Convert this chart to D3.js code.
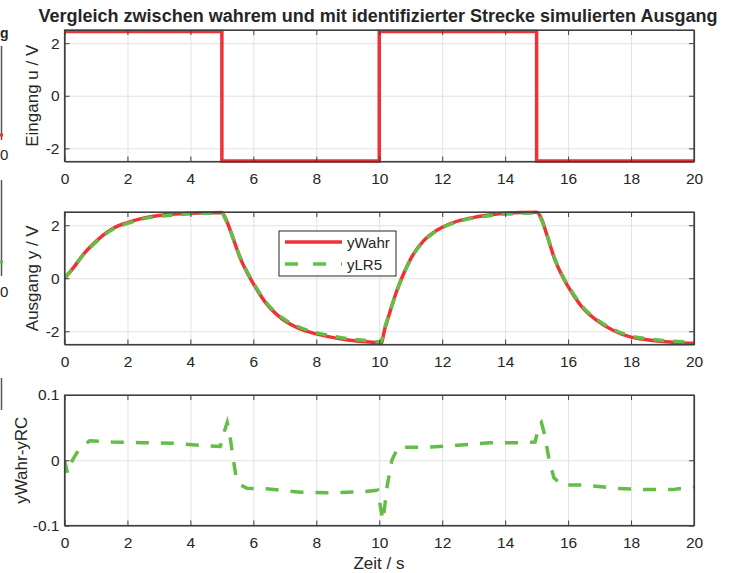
<!DOCTYPE html>
<html>
<head>
<meta charset="utf-8">
<script src="https://cdn.jsdelivr.net/npm/d3@7/dist/d3.min.js"></script>
<style>
  body { margin: 0; background: #fff; }
  text { font-family: "Liberation Sans", Arial, sans-serif; fill: #262626; }
</style>
</head>
<body>
<svg id="chart"></svg>
<script>
// ---- data ----
const xTicks = [0, 2, 4, 6, 8, 10, 12, 14, 16, 18, 20];

// input square wave
const tIn = [0, 5, 5, 10, 10, 15, 15, 20];
const uIn = [2.44, 2.44, -2.48, -2.48, 2.44, 2.44, -2.48, -2.48];

// outputs
const tOut = [0, 0.28, 0.6, 0.92, 1.23, 1.55, 2, 2.5, 3, 3.5, 4, 4.5, 5, 5.1, 5.3, 5.58, 5.84, 6.05, 6.37, 6.9, 7.43, 8, 8.5, 9, 9.5, 10, 10.05,
  10.18, 10.34, 10.55, 10.76, 11.08, 11.4, 11.83, 12.35, 12.88, 13.5, 14, 14.5, 15, 15.16, 15.32, 15.58, 15.85, 16.17, 16.48, 16.9, 17.44,
  18, 18.5, 19, 19.5, 20];
const yWahr = [0, 0.39, 0.9, 1.3, 1.63, 1.89, 2.1, 2.27, 2.37, 2.42, 2.45, 2.47, 2.48, 2.3, 1.7, 0.77, 0.13, -0.31, -0.89, -1.52, -1.88, -2.1,
  -2.23, -2.33, -2.39, -2.44, -2.47, -1.9, -1.27, -0.5, 0.13, 0.9, 1.4, 1.81, 2.1, 2.27, 2.39, 2.45, 2.48, 2.49, 2.23, 1.66, 0.7, 0,
  -0.63, -1.14, -1.58, -1.97, -2.22, -2.32, -2.39, -2.43, -2.45];
const yLR5 = [0, 0.39, 0.88, 1.27, 1.6, 1.86, 2.07, 2.24, 2.34, 2.39, 2.43, 2.45, 2.46, 2.26, 1.69, 0.8, 0.17, -0.27, -0.85, -1.48, -1.83, -2.05,
  -2.18, -2.28, -2.34, -2.4, -2.39, -1.84, -1.26, -0.52, 0.11, 0.88, 1.38, 1.79, 2.08, 2.25, 2.36, 2.42, 2.45, 2.46, 2.18, 1.66, 0.73, 0.04,
  -0.59, -1.1, -1.54, -1.93, -2.18, -2.28, -2.35, -2.39, -2.41];

// difference yWahr - yRC
const tDiff = [0, 0.1, 0.25, 0.45, 0.8, 1.5, 2.5, 3.5, 4.5, 4.95, 5.05, 5.17, 5.25, 5.35, 5.45, 5.6, 5.8, 6.5, 7.5, 8.5, 9.5, 9.95, 10.05,
  10.12, 10.25, 10.4, 10.6, 11.5, 12.5, 13.5, 14.5, 14.95, 15.08, 15.15, 15.25, 15.4, 15.55, 15.8, 16.5, 17.5, 18.5, 19.3, 20];
const dRC = [0, -0.02, 0, 0.016, 0.03, 0.028, 0.027, 0.026, 0.022, 0.021, 0.04, 0.058, 0.04, 0.005, -0.025, -0.038, -0.043, -0.044, -0.049,
  -0.05, -0.048, -0.046, -0.075, -0.092, -0.04, 0, 0.02, 0.02, 0.023, 0.027, 0.027, 0.028, 0.054, 0.058, 0.04, 0, -0.027, -0.038, -0.038,
  -0.043, -0.045, -0.045, -0.041];

const titleText = "Vergleich zwischen wahrem und mit identifizierter Strecke simulierten Ausgang";
const legendNames = ["yWahr", "yLR5"];

// ---- layout ----
const W = 733, H = 573;
const left = 64.5, right = 694;
const RED = "#ee3236", GREEN = "#63bd46", AX = "#3f3f3f", GRID = "#e2e2e2";
const TICK_FS = 15.5, LABEL_FS = 17;

const svg = d3.select("#chart").attr("width", W).attr("height", H);
svg.append("rect").attr("width", W).attr("height", H).attr("fill", "#fff");

const x = d3.scaleLinear().domain([0, 20]).range([left, right]);

function panel(id, top, bottom, domain, yTicks, yFmt, ylabel, ylabelX) {
  const y = d3.scaleLinear().domain(domain).range([bottom, top]);
  const g = svg.append("g").attr("id", id);

  // grid
  g.append("g").attr("transform", `translate(0,${bottom})`)
    .call(d3.axisBottom(x).tickValues(xTicks).tickSize(-(bottom - top)).tickFormat(""))
    .call(s => s.select(".domain").remove())
    .call(s => s.selectAll("line").attr("stroke", GRID));
  g.append("g").attr("transform", `translate(${left},0)`)
    .call(d3.axisLeft(y).tickValues(yTicks).tickSize(-(right - left)).tickFormat(""))
    .call(s => s.select(".domain").remove())
    .call(s => s.selectAll("line").attr("stroke", GRID));

  g.append("defs").append("clipPath").attr("id", id + "-clip")
    .append("rect").attr("x", left).attr("y", top - 2).attr("width", right - left).attr("height", bottom - top + 4);
  const plot = g.append("g").attr("clip-path", `url(#${id}-clip)`);

  // axes, ticks inward on all sides
  const xb = g.append("g").attr("transform", `translate(0,${bottom})`)
    .call(d3.axisBottom(x).tickValues(xTicks).tickSizeInner(-5).tickSizeOuter(0).tickPadding(11));
  const xt = g.append("g").attr("transform", `translate(0,${top})`)
    .call(d3.axisTop(x).tickValues(xTicks).tickSizeInner(-5).tickSizeOuter(0).tickFormat(""));
  const yl = g.append("g").attr("transform", `translate(${left},0)`)
    .call(d3.axisLeft(y).tickValues(yTicks).tickFormat(yFmt).tickSizeInner(-5).tickSizeOuter(0).tickPadding(5));
  const yr = g.append("g").attr("transform", `translate(${right},0)`)
    .call(d3.axisRight(y).tickValues(yTicks).tickSizeInner(-5).tickSizeOuter(0).tickFormat(""));
  [xb, xt, yl, yr].forEach(a => {
    a.selectAll(".domain").attr("stroke", AX).attr("stroke-width", 1.2);
    a.selectAll("line").attr("stroke", AX);
    a.selectAll("text").attr("font-size", TICK_FS).attr("fill", "#262626")
      .attr("font-family", '"Liberation Sans", Arial, sans-serif');
  });

  g.append("rect").attr("x", left).attr("y", top).attr("width", right - left).attr("height", bottom - top)
    .attr("fill", "none").attr("stroke", AX).attr("stroke-width", 1.2);

  g.append("text")
    .attr("transform", `translate(${ylabelX},${(top + bottom) / 2}) rotate(-90)`)
    .attr("text-anchor", "middle").attr("font-size", LABEL_FS).text(ylabel);

  return { plot, y };
}

// title
svg.append("text").attr("x", 378).attr("y", 22).attr("text-anchor", "middle")
  .attr("font-weight", "bold").attr("font-size", 17.5).attr("fill", "#000")
  .attr("textLength", 679).attr("lengthAdjust", "spacingAndGlyphs").text(titleText);

const fmtV = d => d3.format("d")(d).replace("−", "-");

// panel 1: input
const p1 = panel("p1", 30, 161.5, [-2.5, 2.5], [-2, 0, 2], fmtV, "Eingang u / V", 38);
p1.plot.append("path")
  .datum(tIn.map((t, i) => [t, uIn[i]]))
  .attr("fill", "none").attr("stroke", RED).attr("stroke-width", 3.5)
  .attr("d", d3.line().x(d => x(d[0])).y(d => p1.y(d[1])));

// panel 2: outputs
const p2 = panel("p2", 212, 344.5, [-2.5, 2.5], [-2, 0, 2], fmtV, "Ausgang y / V", 38);
const line2 = d3.line().x(d => x(d[0])).y(d => p2.y(d[1])).curve(d3.curveMonotoneX);
p2.plot.append("path")
  .datum(tOut.map((t, i) => [t, yWahr[i]]))
  .attr("fill", "none").attr("stroke", RED).attr("stroke-width", 3.5).attr("d", line2);
p2.plot.append("path")
  .datum(tOut.map((t, i) => [t, yLR5[i]]))
  .attr("fill", "none").attr("stroke", GREEN).attr("stroke-width", 3.5)
  .attr("stroke-dasharray", "11,9").attr("d", line2);

// legend
const lg = svg.append("g");
lg.append("rect").attr("x", 279).attr("y", 231).attr("width", 117).attr("height", 45)
  .attr("fill", "#fff").attr("stroke", "#262626").attr("stroke-width", 1);
lg.append("line").attr("x1", 285).attr("x2", 342).attr("y1", 242).attr("y2", 242)
  .attr("stroke", RED).attr("stroke-width", 3.5);
lg.append("line").attr("x1", 285).attr("x2", 342).attr("y1", 264).attr("y2", 264)
  .attr("stroke", GREEN).attr("stroke-width", 3.5).attr("stroke-dasharray", "13,15");
legendNames.forEach((n, i) => {
  lg.append("text").attr("x", 347).attr("y", 247.5 + i * 22).attr("font-size", 15).text(n);
});

// panel 3: difference
const p3 = panel("p3", 395, 525.5, [-0.1, 0.1], [-0.1, 0, 0.1], d => d === 0 ? "0" : d3.format(".1f")(d).replace("−", "-"), "yWahr-yRC", 27);
p3.plot.append("path")
  .datum(tDiff.map((t, i) => [t, dRC[i]]))
  .attr("fill", "none").attr("stroke", GREEN).attr("stroke-width", 3.5)
  .attr("stroke-dasharray", "13,12")
  .attr("d", d3.line().x(d => x(d[0])).y(d => p3.y(d[1])));

svg.append("text").attr("x", 379).attr("y", 569).attr("text-anchor", "middle")
  .attr("font-size", LABEL_FS).text("Zeit / s");

// remnants of an overlapped figure at the left border
const edge = svg.append("g");
edge.append("text").attr("x", 0).attr("y", 38).attr("font-weight", "bold").attr("font-size", 14).attr("fill", "#000").text("g");
[[46, 140], [180, 276], [378, 410]].forEach(([a, b]) => {
  edge.append("line").attr("x1", 1.5).attr("x2", 1.5).attr("y1", a).attr("y2", b).attr("stroke", "#555").attr("stroke-width", 1.5);
});
edge.append("line").attr("x1", 0).attr("x2", 3).attr("y1", 135).attr("y2", 135).attr("stroke", RED).attr("stroke-width", 3);
edge.append("line").attr("x1", 0).attr("x2", 3).attr("y1", 262).attr("y2", 262).attr("stroke", GREEN).attr("stroke-width", 3);
[160, 297].forEach(yy => edge.append("text").attr("x", 0).attr("y", yy).attr("font-size", 15).text("0"));
</script>
</body>
</html>
